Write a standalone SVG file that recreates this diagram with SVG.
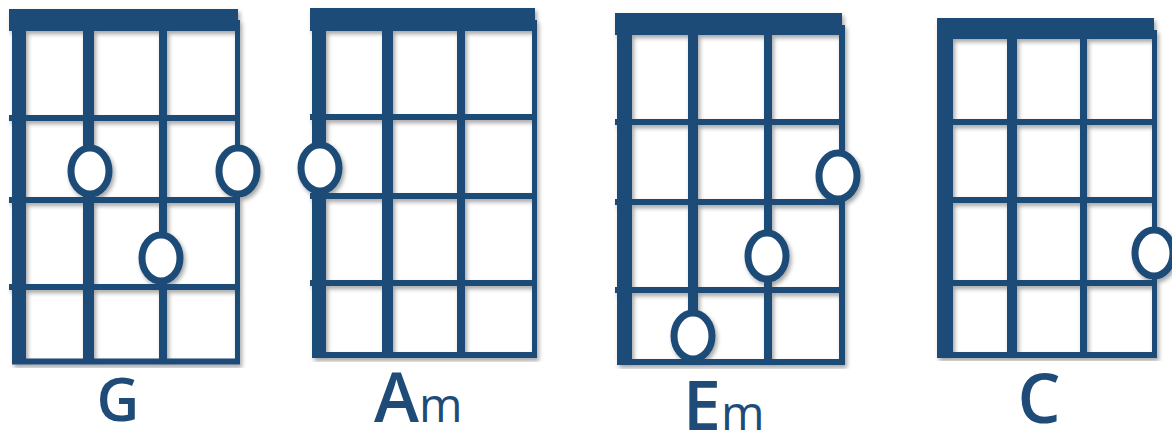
<svg xmlns="http://www.w3.org/2000/svg" width="1172" height="436" viewBox="0 0 1172 436">
<defs>
<filter id="sh" x="-3%" y="-3%" width="106%" height="104%">
<feDropShadow dx="2" dy="3" stdDeviation="2" flood-color="#000" flood-opacity="0.35"/>
</filter>
<style>
.g{filter:url(#sh)}
.s,.f{stroke:#1f4b78;fill:none}
.f{stroke-width:6}
.nut{fill:#1f4b78}
.dot{fill:#fff;stroke:#1f4b78;stroke-width:7}
.lbl{font-family:"Open Sans","Liberation Sans",sans-serif;fill:#1f4b78;font-size:68px;font-weight:600}
.sm{font-size:47px;font-weight:400}
</style>
</defs>
<rect width="1172" height="436" fill="#fff"/>
<g id="chord-G">
<g class="g">
<line class="s" x1="19" y1="20" x2="19" y2="364" stroke-width="14"/>
<line class="s" x1="88.5" y1="20" x2="88.5" y2="364" stroke-width="11"/>
<line class="s" x1="163" y1="20" x2="163" y2="364" stroke-width="8"/>
<line class="s" x1="237.5" y1="20" x2="237.5" y2="364" stroke-width="5"/>
<line class="f" x1="9" y1="118" x2="240" y2="118"/>
<line class="f" x1="9" y1="200" x2="240" y2="200"/>
<line class="f" x1="9" y1="287" x2="240" y2="287"/>
<line class="f" x1="12" y1="361.5" x2="240" y2="361.5"/>
<rect class="nut" x="9" y="9" width="229" height="22"/>
<ellipse class="dot" cx="90" cy="171" rx="19" ry="23"/>
<ellipse class="dot" cx="238" cy="171" rx="19" ry="23"/>
<ellipse class="dot" cx="161" cy="258" rx="19" ry="23"/>
</g>
<text class="lbl" x="118" y="421" text-anchor="middle" style="font-size:59px">G</text>
</g>
<g id="chord-Am">
<g class="g">
<line class="s" x1="319" y1="20" x2="319" y2="358" stroke-width="14"/>
<line class="s" x1="387.5" y1="20" x2="387.5" y2="358" stroke-width="11"/>
<line class="s" x1="461" y1="20" x2="461" y2="358" stroke-width="8"/>
<line class="s" x1="534.5" y1="20" x2="534.5" y2="358" stroke-width="5"/>
<line class="f" x1="310" y1="117" x2="537" y2="117"/>
<line class="f" x1="310" y1="196" x2="537" y2="196"/>
<line class="f" x1="310" y1="283" x2="537" y2="283"/>
<line class="f" x1="312" y1="355" x2="537" y2="355"/>
<rect class="nut" x="310" y="8" width="225" height="23"/>
<ellipse class="dot" cx="320" cy="168" rx="19" ry="23"/>
</g>
<text class="lbl" x="374" y="422">A<tspan class="sm">m</tspan></text>
</g>
<g id="chord-Em">
<g class="g">
<line class="s" x1="624.5" y1="25" x2="624.5" y2="365" stroke-width="15"/>
<line class="s" x1="693" y1="25" x2="693" y2="365" stroke-width="10"/>
<line class="s" x1="768" y1="25" x2="768" y2="365" stroke-width="8"/>
<line class="s" x1="842" y1="25" x2="842" y2="365" stroke-width="6"/>
<line class="f" x1="615" y1="122" x2="845" y2="122"/>
<line class="f" x1="615" y1="202" x2="845" y2="202"/>
<line class="f" x1="615" y1="290" x2="845" y2="290"/>
<line class="f" x1="617" y1="362" x2="845" y2="362"/>
<rect class="nut" x="615" y="13" width="227" height="22"/>
<ellipse class="dot" cx="838" cy="176" rx="19" ry="23"/>
<ellipse class="dot" cx="767" cy="256" rx="19" ry="23"/>
<ellipse class="dot" cx="693" cy="336" rx="19" ry="23"/>
</g>
<text class="lbl" x="683" y="430">E<tspan class="sm">m</tspan></text>
</g>
<g id="chord-C">
<g class="g">
<line class="s" x1="945" y1="30" x2="945" y2="357" stroke-width="16"/>
<line class="s" x1="1012" y1="30" x2="1012" y2="357" stroke-width="10"/>
<line class="s" x1="1083.5" y1="30" x2="1083.5" y2="357" stroke-width="7"/>
<line class="s" x1="1154.5" y1="30" x2="1154.5" y2="357" stroke-width="5"/>
<line class="f" x1="937" y1="122" x2="1157" y2="122"/>
<line class="f" x1="937" y1="200" x2="1157" y2="200"/>
<line class="f" x1="937" y1="283" x2="1157" y2="283"/>
<line class="f" x1="937" y1="355" x2="1157" y2="355"/>
<rect class="nut" x="937" y="18" width="217" height="21"/>
<ellipse class="dot" cx="1154" cy="253" rx="19" ry="23"/>
</g>
<text class="lbl" x="1039" y="423" text-anchor="middle">C</text>
</g>
</svg>
